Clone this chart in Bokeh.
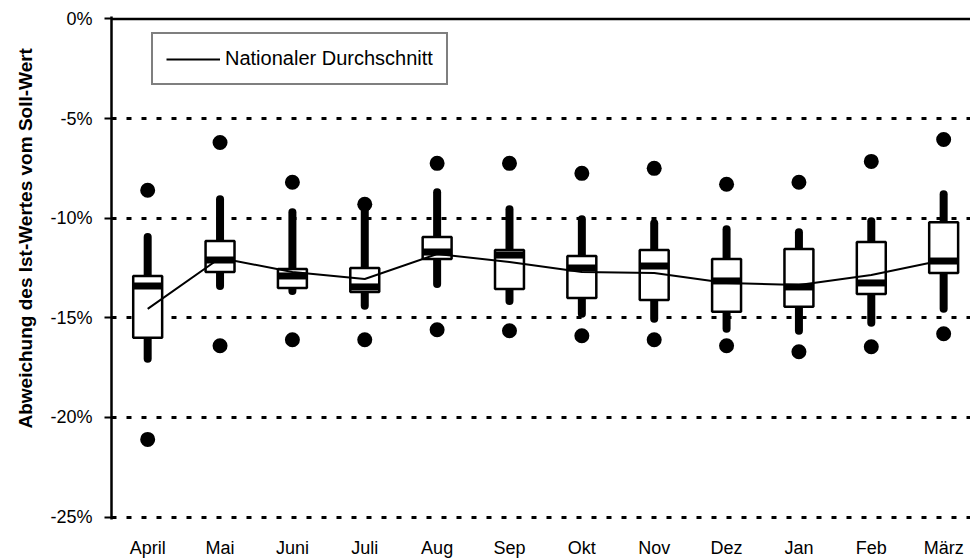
from bokeh.plotting import figure
from bokeh.models import (Range1d, FixedTicker, PrintfTickFormatter, Span, Title,
                          ColumnDataSource, Legend, LegendItem)
from bokeh.embed import file_html
from bokeh.resources import INLINE

months = ["April", "Mai", "Juni", "Juli", "Aug", "Sep", "Okt", "Nov", "Dez", "Jan", "Feb", "März"]
whisker_low = [-17.05, -13.4, -13.65, -14.4, -13.3, -14.15, -14.8, -15.05, -15.55, -15.65, -15.25, -14.55]
q1 = [-16.0, -12.7, -13.5, -13.7, -12.05, -13.55, -14.0, -14.1, -14.7, -14.45, -13.8, -12.75]
median = [-13.4, -12.1, -12.9, -13.45, -11.7, -11.85, -12.5, -12.4, -13.15, -13.45, -13.25, -12.15]
q3 = [-12.9, -11.15, -12.55, -12.5, -10.95, -11.6, -11.9, -11.6, -12.05, -11.55, -11.2, -10.2]
whisker_high = [-10.95, -9.05, -9.7, -9.55, -8.7, -9.55, -10.05, -10.25, -10.55, -10.7, -10.15, -8.8]
outlier_high = [-8.6, -6.2, -8.2, -9.3, -7.25, -7.25, -7.75, -7.5, -8.3, -8.2, -7.15, -6.05]
outlier_low = [-21.1, -16.4, -16.1, -16.1, -15.6, -15.65, -15.9, -16.1, -16.4, -16.7, -16.45, -15.8]
mean = [-14.55, -12.0, -12.7, -13.05, -11.8, -12.2, -12.7, -12.75, -13.25, -13.35, -12.85, -12.1]
y_ticks = [0, -5, -10, -15, -20, -25]
y_title = "Abweichung des Ist-Wertes vom Soll-Wert"

xs = list(range(len(months)))
src = ColumnDataSource(dict(x=xs, wl=whisker_low, q1=q1, med=median, q3=q3, wh=whisker_high,
                            oh=outlier_high, ol=outlier_low, mean=mean))

FONT = "Liberation Sans"

p = figure(width=970, height=560, output_backend="svg", toolbar_location=None,
           x_range=Range1d(-0.5, 11.371), y_range=Range1d(-25.12, 0.12),
           min_border_left=111, min_border_right=0, min_border_top=16, min_border_bottom=39)
p.outline_line_color = None
p.background_fill_color = "white"
p.border_fill_color = "white"

# grid
p.xgrid.grid_line_color = None
p.ygrid.ticker = FixedTicker(ticks=y_ticks[1:])
p.ygrid.grid_line_color = "black"
p.ygrid.grid_line_width = 3
p.ygrid.grid_line_dash = "5 10"
p.add_layout(Span(location=y_ticks[0], dimension="width", line_color="black", line_width=2.5))

# y axis
p.yaxis.ticker = FixedTicker(ticks=y_ticks)
p.yaxis.formatter = PrintfTickFormatter(format="%d%%")
p.yaxis.axis_line_width = 2.5
p.yaxis.major_tick_line_width = 2
p.yaxis.major_tick_out = 7
p.yaxis.major_tick_in = 0
p.yaxis.minor_tick_line_color = None
p.yaxis.major_label_standoff = 12
p.yaxis.major_label_text_font = FONT
p.yaxis.major_label_text_font_size = "18px"
p.yaxis.major_label_text_color = "black"

# y title, placed higher than the frame centre like the original
p.add_layout(Title(text=y_title, align="left", offset=91, standoff=23,
                   text_font=FONT, text_font_size="19px", text_font_style="bold",
                   text_color="black"), "left")

# x axis
p.xaxis.ticker = FixedTicker(ticks=xs)
p.xaxis.major_label_overrides = {i: m for i, m in zip(xs, months)}
p.xaxis.axis_line_color = None
p.xaxis.major_tick_line_color = None
p.xaxis.minor_tick_line_color = None
p.xaxis.major_label_standoff = 12
p.xaxis.major_label_text_font = FONT
p.xaxis.major_label_text_font_size = "18px"
p.xaxis.major_label_text_color = "black"

# whiskers
p.segment(x0="x", y0="q3", x1="x", y1="wh", source=src, line_color="black",
          line_width=8, line_cap="round")
p.segment(x0="x", y0="q1", x1="x", y1="wl", source=src, line_color="black",
          line_width=8, line_cap="round")
# boxes
p.vbar(x="x", top="q3", bottom="q1", width=0.4, source=src, fill_color="white",
       line_color="black", line_width=2.5)
# medians
p.rect(x="x", y="med", width=0.4, height=7, height_units="screen", source=src,
       fill_color="black", line_color=None)
# mean line
mean_r = p.line(x="x", y="mean", source=src, line_color="black", line_width=2)
# outliers
p.scatter(x="x", y="oh", source=src, size=15, fill_color="black", line_color=None)
p.scatter(x="x", y="ol", source=src, size=15, fill_color="black", line_color=None)

legend = Legend(items=[LegendItem(label="Nationaler Durchschnitt", renderers=[mean_r])],
                location=(40, 434), orientation="vertical")
legend.border_line_color = "black"
legend.border_line_width = 2.5
legend.background_fill_alpha = 1
legend.padding = 13
legend.margin = 0
legend.glyph_width = 54
legend.glyph_height = 20
legend.label_height = 20
legend.label_standoff = 5
legend.label_text_font = FONT
legend.label_text_font_size = "20px"
legend.label_text_color = "black"
p.add_layout(legend, "center")

open("out.html", "w").write(file_html(p, INLINE))
